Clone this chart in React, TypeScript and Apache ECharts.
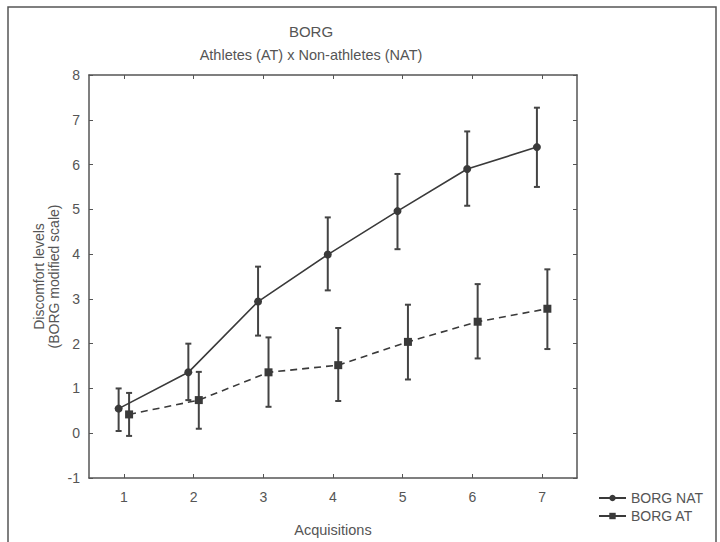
import React, { useEffect, useRef } from "react";
import * as echarts from "echarts";

const acquisitions = [1, 2, 3, 4, 5, 6, 7];
const natMean = [0.55, 1.36, 2.94, 3.99, 4.96, 5.9, 6.39];
const natLow = [0.05, 0.74, 2.18, 3.19, 4.11, 5.08, 5.5];
const natHigh = [1.0, 2.0, 3.72, 4.82, 5.79, 6.74, 7.27];
const atMean = [0.42, 0.74, 1.36, 1.52, 2.04, 2.49, 2.78];
const atLow = [-0.06, 0.1, 0.59, 0.72, 1.2, 1.67, 1.88];
const atHigh = [0.9, 1.37, 2.14, 2.35, 2.87, 3.33, 3.66];

const FONT = "'Liberation Sans', Arial, sans-serif";
const INK = "#3a3a3a";
const TXT = "#555";
const SHIFT = 0.075;

function errorBarSeries(name: string, shift: number, low: number[], high: number[]) {
  return {
    type: "custom",
    name: name + " err",
    z: 2,
    silent: true,
    encode: { x: 0, y: [1, 2] },
    data: acquisitions.map((a, i) => [a + shift, low[i], high[i]]),
    renderItem: (params: any, api: any) => {
      const x = api.value(0);
      const lo = api.coord([x, api.value(1)]);
      const hi = api.coord([x, api.value(2)]);
      const w = 3;
      const st = { stroke: "#444", lineWidth: 2 };
      return {
        type: "group",
        children: [
          { type: "line", shape: { x1: lo[0], y1: lo[1], x2: hi[0], y2: hi[1] }, style: st },
          { type: "line", shape: { x1: hi[0] - w, y1: hi[1], x2: hi[0] + w, y2: hi[1] }, style: st },
          { type: "line", shape: { x1: lo[0] - w, y1: lo[1], x2: lo[0] + w, y2: lo[1] }, style: st },
        ],
      };
    },
  };
}

export default function App() {
  const ref = useRef<HTMLDivElement>(null);
  useEffect(() => {
    document.body.style.margin = "0";
    const chart = echarts.init(ref.current!, undefined, { renderer: "svg" });
    const axisLine = { show: true, onZero: false, lineStyle: { color: "#555", width: 1.5 } };
    const tick = { show: true, inside: true, length: 4, lineStyle: { color: "#555", width: 1 } };
    chart.setOption({
      animation: false,
      backgroundColor: "#fff",
      textStyle: { fontFamily: FONT },
      title: {
        text: "BORG",
        subtext: "Athletes (AT) x Non-athletes (NAT)",
        left: 306,
        top: 19,
        textAlign: "center",
        itemGap: 8,
        textStyle: { fontSize: 15, fontWeight: "normal", color: TXT, fontFamily: FONT },
        subtextStyle: { fontSize: 14.5, color: TXT, fontFamily: FONT },
      },
      graphic: [
        {
          type: "rect",
          shape: { x: 8, y: 7, width: 708, height: 580 },
          style: { fill: "none", stroke: "#555", lineWidth: 1.5 },
          silent: true,
        },
      ],
      legend: {
        orient: "vertical",
        left: 593,
        top: 486,
        itemWidth: 27,
        itemHeight: 8,
        itemGap: 4,
        textStyle: { fontSize: 14, color: TXT, fontFamily: FONT },
        data: [
          { name: "BORG NAT" },
          { name: "BORG AT", lineStyle: { type: "solid" } },
        ],
      },
      grid: { left: 89, right: 143, top: 75, bottom: 62 },
      xAxis: [
        {
          type: "value",
          min: 0.5,
          max: 7.5,
          position: "bottom",
          name: "Acquisitions",
          nameLocation: "middle",
          nameGap: 44,
          nameTextStyle: { fontSize: 14.5, color: TXT, fontFamily: FONT },
          axisLine,
          axisTick: { ...tick, customValues: acquisitions },
          axisLabel: { customValues: acquisitions, fontSize: 14, color: TXT, margin: 12, fontFamily: FONT },
          splitLine: { show: false },
        },
        {
          type: "value",
          min: 0.5,
          max: 7.5,
          position: "top",
          axisLine,
          axisTick: { ...tick, customValues: acquisitions },
          axisLabel: { show: false },
          splitLine: { show: false },
        },
      ],
      yAxis: [
        {
          type: "value",
          min: -1,
          max: 8,
          interval: 1,
          position: "left",
          name: "Discomfort levels\n(BORG modified scale)",
          nameLocation: "middle",
          nameGap: 28,
          nameMoveOverlap: false,
          nameTextStyle: { fontSize: 14, color: TXT, lineHeight: 15, fontFamily: FONT },
          axisLine,
          axisTick: tick,
          axisLabel: { fontSize: 14, color: TXT, margin: 9, fontFamily: FONT },
          splitLine: { show: false },
        },
        {
          type: "value",
          min: -1,
          max: 8,
          interval: 1,
          position: "right",
          axisLine,
          axisTick: tick,
          axisLabel: { show: false },
          splitLine: { show: false },
        },
      ],
      series: [
        errorBarSeries("BORG NAT", -SHIFT, natLow, natHigh),
        errorBarSeries("BORG AT", SHIFT, atLow, atHigh),
        {
          type: "line",
          name: "BORG NAT",
          z: 3,
          data: acquisitions.map((a, i) => [a - SHIFT, natMean[i]]),
          symbol: "circle",
          symbolSize: 8,
          itemStyle: { color: INK },
          lineStyle: { color: INK, width: 1.6, type: "solid" },
        },
        {
          type: "line",
          name: "BORG AT",
          z: 3,
          data: acquisitions.map((a, i) => [a + SHIFT, atMean[i]]),
          symbol: "rect",
          symbolSize: 8,
          itemStyle: { color: INK },
          lineStyle: { color: INK, width: 1.6, type: [7, 5] },
        },
      ],
    });
    return () => chart.dispose();
  }, []);
  return <div ref={ref} style={{ width: 720, height: 542 }} />;
}
